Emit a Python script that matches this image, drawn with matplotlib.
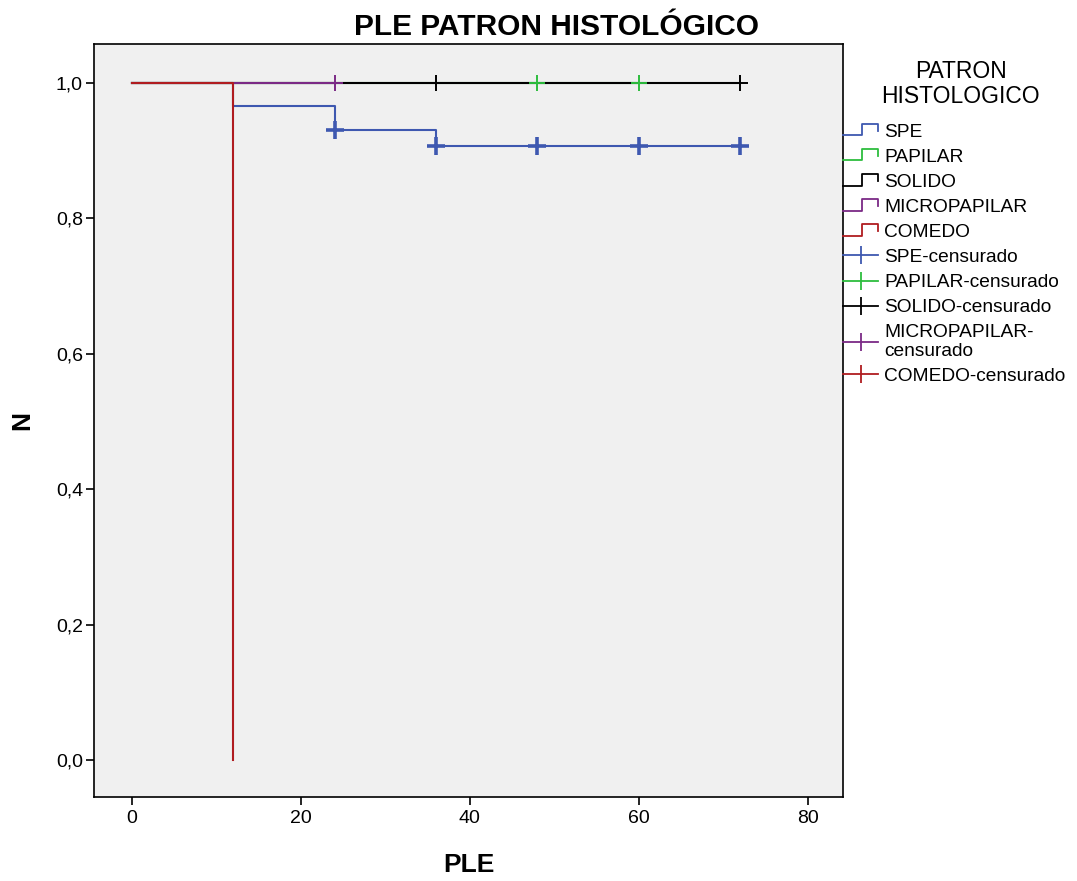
import matplotlib
matplotlib.use('Agg')
import matplotlib.pyplot as plt
from matplotlib.lines import Line2D
from matplotlib.legend_handler import HandlerBase

plt.rcParams['font.family'] = ['Liberation Sans', 'DejaVu Sans']

# survival curves: (times, survival) per group, step after each time
groups = ['SPE', 'PAPILAR', 'SOLIDO', 'MICROPAPILAR', 'COMEDO']
colors = ['#3e58b0', '#2dbd3e', '#000000', '#7b2a86', '#b01c20']
times = {
    'SPE': [0, 12, 24, 36, 72],
    'PAPILAR': [0, 60],
    'SOLIDO': [0, 72],
    'MICROPAPILAR': [0, 24],
    'COMEDO': [0, 12],
}
surv = {
    'SPE': [1.0, 0.966, 0.931, 0.907, 0.907],
    'PAPILAR': [1.0, 1.0],
    'SOLIDO': [1.0, 1.0],
    'MICROPAPILAR': [1.0, 1.0],
    'COMEDO': [1.0, 0.0],
}
cens_t = {
    'SPE': [24, 36, 48, 60, 72],
    'PAPILAR': [48, 60],
    'SOLIDO': [36, 72],
    'MICROPAPILAR': [24],
    'COMEDO': [],
}
cens_y = {
    'SPE': [0.931, 0.907, 0.907, 0.907, 0.907],
    'PAPILAR': [1.0, 1.0],
    'SOLIDO': [1.0, 1.0],
    'MICROPAPILAR': [1.0],
    'COMEDO': [],
}


class StepHandler(HandlerBase):
    def create_artists(self, legend, orig, xd, yd, w, h, fs, trans):
        xs = [-xd, -xd + w * 0.55, -xd + w * 0.55, -xd + w, -xd + w]
        ys = [-yd + h * 0.1, -yd + h * 0.1, -yd + h * 0.95, -yd + h * 0.95, -yd + h * 0.45]
        ln = Line2D(xs, ys, color=orig.get_color(), lw=1.3, transform=trans)
        return [ln]


fig = plt.figure(figsize=(10.77, 8.81), dpi=100)
ax = fig.add_axes([0.0873, 0.0954, 0.6954, 0.8546])
ax.set_facecolor('#f0f0f0')

for g, c in zip(groups, colors):
    ax.step(times[g], surv[g], where='post', color=c, lw=1.5)
for g, c in zip(groups, colors):
    if cens_t[g]:
        ms = 13 if g == 'SPE' else 12
        mew = 2.6 if g == 'SPE' else 1.4
        ax.plot(cens_t[g], cens_y[g], ls='none', marker='+', color=c,
                markersize=ms, markeredgewidth=mew)

ax.set_xlim(-4.5, 84.2)
ax.set_ylim(-0.0547, 1.0576)
ax.set_xticks([0, 20, 40, 60, 80])
ax.set_yticks([0, 0.2, 0.4, 0.6, 0.8, 1.0])
ax.set_yticklabels(['0,0', '0,2', '0,4', '0,6', '0,8', '1,0'])
ax.tick_params(labelsize=14, length=6, width=1.2)
ax.tick_params(axis='y', pad=2)
for s in ax.spines.values():
    s.set_linewidth(1.2)

ax.set_xlabel('PLE', fontsize=19, fontweight='bold', va='center')
ax.set_ylabel('N', fontsize=19, fontweight='bold', va='center')
ax.xaxis.set_label_coords(0.5, -0.090)
ax.yaxis.set_label_coords(-0.096, 0.5)
fig.text(0.517, 0.969, 'PLE PATRON HISTOLÓGICO', ha='center', va='center',
         fontsize=21.5, fontweight='bold')

handles = []
labels = []
for g, c in zip(groups, colors):
    handles.append(Line2D([], [], color=c))
    labels.append(g)
for g, c in zip(groups, colors):
    handles.append(Line2D([], [], color=c, lw=1.3, marker='|', markersize=13,
                          markeredgewidth=1.3))
    labels.append(g + '-censurado' if g != 'MICROPAPILAR' else g + '-\ncensurado')

step_map = {h: StepHandler() for h in handles[:5]}
leg = fig.legend(handles, labels, loc='upper left', bbox_to_anchor=(0.7827, 0.860),
                 frameon=False, fontsize=13.8, handlelength=1.85, handletextpad=0.3,
                 labelspacing=0.4, numpoints=1, handler_map=step_map,
                 borderaxespad=0, borderpad=0)
for t in leg.get_texts():
    t.set_linespacing(1.15)
fig.text(0.892, 0.905, 'PATRON\nHISTOLOGICO', ha='center', va='center',
         fontsize=16.5, linespacing=1.1)

fig.savefig('out.png', dpi=100)
